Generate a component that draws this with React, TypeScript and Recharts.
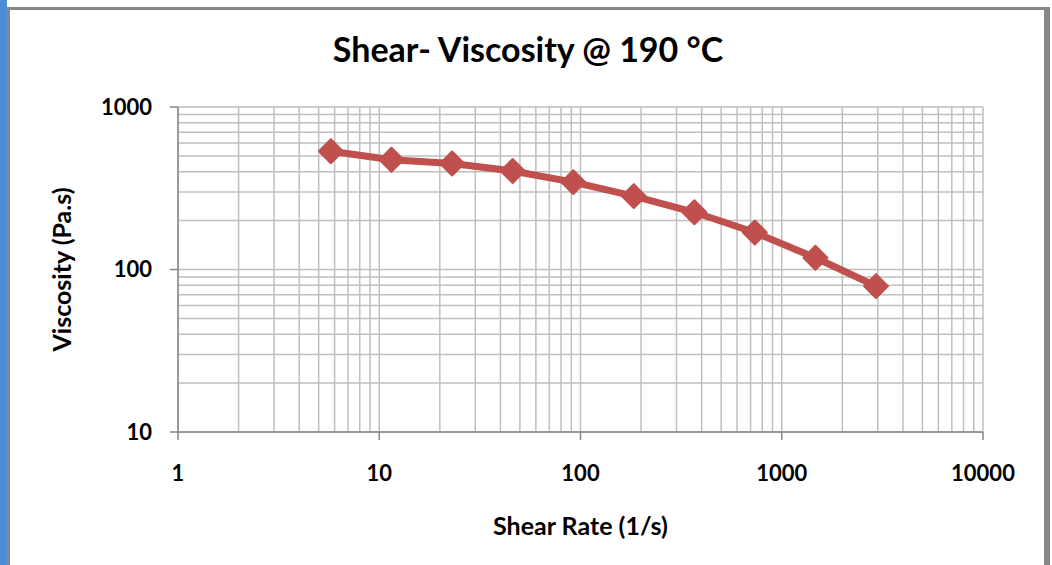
import { LineChart, Line, XAxis, YAxis, CartesianGrid, Label } from "recharts";

// shear rate (1/s) and viscosity (Pa.s)
const shearRate = [5.75, 11.5, 23, 46, 92, 184, 368, 735, 1470, 2940];
const viscosity = [534, 474, 449, 404, 345, 283, 225, 169, 118, 79];

const xTicks = [1, 10, 100, 1000, 10000];
const yTicks = [10, 100, 1000];

// major + minor grid lines of the log axes
const xGrid = [
  1, 2, 3, 4, 5, 6, 7, 8, 9,
  10, 20, 30, 40, 50, 60, 70, 80, 90,
  100, 200, 300, 400, 500, 600, 700, 800, 900,
  1000, 2000, 3000, 4000, 5000, 6000, 7000, 8000, 9000,
  10000,
];
const yGrid = [
  10, 20, 30, 40, 50, 60, 70, 80, 90,
  100, 200, 300, 400, 500, 600, 700, 800, 900,
  1000,
];

const data = shearRate.map((x, i) => ({ x, y: viscosity[i] }));

const RED = "#c0504d";
const FONT = "Lato, 'Open Sans', sans-serif";

const Diamond = (props: any) => {
  const { cx, cy } = props;
  if (cx == null || cy == null) return null;
  const r = 12;
  return (
    <path
      d={`M${cx},${cy - r}L${cx + r},${cy}L${cx},${cy + r}L${cx - r},${cy}Z`}
      fill={RED}
      stroke={RED}
      strokeWidth={2}
      strokeLinejoin="round"
    />
  );
};

const tickStyle = { fontSize: 22, fontWeight: 700, fill: "#000", fontFamily: FONT };
const titleStyle = { fontSize: 25, fontWeight: 700, fill: "#000", fontFamily: FONT };

export default function App() {
  return (
    <div
      style={{
        position: "absolute",
        left: 0,
        top: 0,
        width: 1052,
        height: 565,
        background: "#fff",
        overflow: "hidden",
      }}
    >
      <div style={{ position: "absolute", left: 0, top: 0, width: 7, height: 565, background: "#4f8bd5" }} />
      <div
        style={{
          position: "absolute",
          left: 7,
          top: 7,
          width: 1043,
          height: 620,
          boxSizing: "border-box",
          borderTop: "3px solid #878787",
          borderLeft: "3px solid #878787",
          borderRight: "6px solid #878787",
        }}
      />
      <div
        style={{
          position: "absolute",
          left: 2,
          top: 28,
          width: 1052,
          textAlign: "center",
          fontFamily: FONT,
          fontWeight: 700,
          fontSize: 34,
          lineHeight: "41px",
          color: "#000",
        }}
      >
        Shear- Viscosity @ 190 °C
      </div>
      <div style={{ position: "absolute", left: 0, top: 0 }}>
        <LineChart
          width={1052}
          height={565}
          data={data}
          margin={{ top: 107, right: 69, bottom: 0, left: 40 }}
        >
          <CartesianGrid
            stroke="#bfbfbf"
            strokeWidth={1.5}
            verticalValues={xGrid}
            horizontalValues={yGrid}
          />
          <XAxis
            dataKey="x"
            type="number"
            scale="log"
            domain={[1, 10000]}
            ticks={xTicks}
            interval={0}
            allowDataOverflow
            height={133}
            tickSize={8}
            tickMargin={25}
            tick={tickStyle}
            axisLine={{ stroke: "#878787", strokeWidth: 1.5 }}
            tickLine={{ stroke: "#878787", strokeWidth: 1.5 }}
          >
            <Label value="Shear Rate (1/s)" position="insideBottom" offset={30} style={titleStyle} />
          </XAxis>
          <YAxis
            type="number"
            scale="log"
            domain={[10, 1000]}
            ticks={yTicks}
            interval={0}
            allowDataOverflow
            width={138}
            tickSize={8}
            tickMargin={18}
            tick={tickStyle}
            axisLine={{ stroke: "#878787", strokeWidth: 1.5 }}
            tickLine={{ stroke: "#878787", strokeWidth: 1.5 }}
          >
            <Label
              value="Viscosity (Pa.s)"
              angle={-90}
              position="insideLeft"
              offset={22}
              style={{ ...titleStyle, textAnchor: "middle" }}
            />
          </YAxis>
          <Line
            type="linear"
            dataKey="y"
            stroke={RED}
            strokeWidth={7}
            dot={<Diamond />}
            activeDot={false}
            isAnimationActive={false}
          />
        </LineChart>
      </div>
    </div>
  );
}
